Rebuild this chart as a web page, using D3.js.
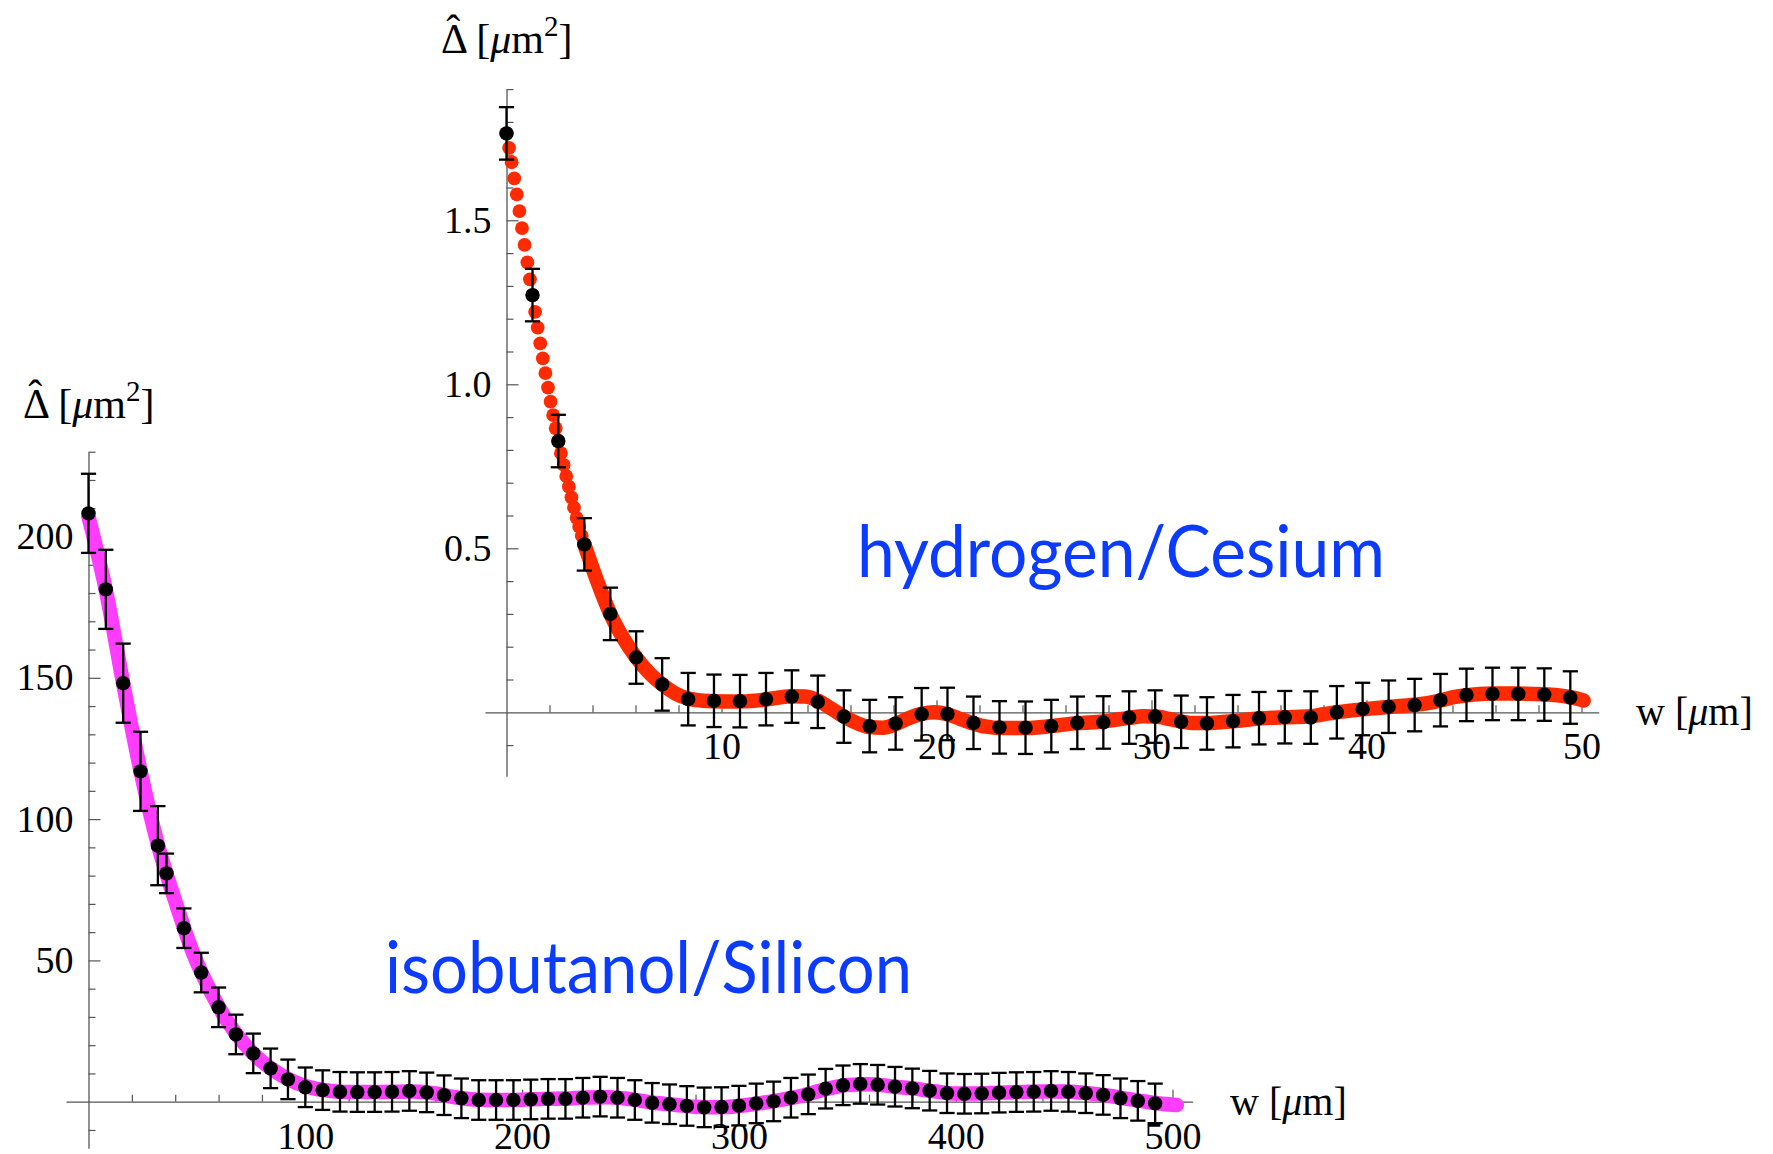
<!DOCTYPE html>
<html>
<head>
<meta charset="utf-8">
<script src="https://cdn.jsdelivr.net/npm/d3@7"></script>
<style>
  html, body { margin: 0; padding: 0; background: #fff; }
  svg { display: block; }
</style>
</head>
<body>
<svg id="chart" width="1773" height="1154"></svg>
<script>
// ---------- hydrogen / Cesium (upper panel) ----------
// measured points with error bars
const topW = [0.00, 1.21, 2.41, 3.62, 4.83, 6.03, 7.24, 8.45, 9.65, 10.86, 12.07, 13.27, 14.48, 15.69,
  16.89, 18.10, 19.31, 20.51, 21.72, 22.93, 24.14, 25.34, 26.55, 27.76, 28.96, 30.17, 31.38, 32.58,
  33.79, 35.00, 36.20, 37.41, 38.62, 39.82, 41.03, 42.24, 43.44, 44.65, 45.86, 47.06, 48.27, 49.48];
const topV = [1.765, 1.272, 0.827, 0.512, 0.300, 0.167, 0.085, 0.040, 0.035, 0.034, 0.040, 0.048, 0.032, -0.013,
  -0.042, -0.034, -0.006, -0.005, -0.032, -0.046, -0.047, -0.042, -0.032, -0.031, -0.016, -0.013, -0.029, -0.034,
  -0.027, -0.018, -0.015, -0.016, 0.000, 0.010, 0.017, 0.022, 0.037, 0.053, 0.056, 0.056, 0.054, 0.045];
const topErr = [0.08, 0.08, 0.08, 0.08, 0.08, 0.08, 0.08, 0.08, 0.08, 0.08, 0.08, 0.08, 0.08, 0.08,
  0.08, 0.08, 0.08, 0.08, 0.08, 0.08, 0.08, 0.08, 0.08, 0.08, 0.08, 0.08, 0.08, 0.08,
  0.08, 0.08, 0.08, 0.08, 0.08, 0.08, 0.08, 0.08, 0.08, 0.08, 0.08, 0.08, 0.08, 0.08];

// model curve, steep part: individual sample dots
const redDotW = [0.00, 0.12, 0.24, 0.36, 0.48, 0.60, 0.72, 0.84, 0.97, 1.09, 1.21, 1.33, 1.45, 1.57, 1.69,
  1.81, 1.93, 2.05, 2.17, 2.29, 2.41, 2.53, 2.66, 2.78, 2.90, 3.02, 3.14, 3.26, 3.38, 3.50, 3.62];
const redDotV = [1.765, 1.721, 1.677, 1.628, 1.579, 1.528, 1.476, 1.425, 1.372, 1.320, 1.272, 1.221, 1.173, 1.125, 1.079,
  1.034, 0.990, 0.947, 0.906, 0.866, 0.827, 0.790, 0.754, 0.720, 0.688, 0.655, 0.624, 0.593, 0.566, 0.538, 0.512];
// model curve, flat part: samples overlap into a continuous band
const redBandW = [3.62, 4.22, 4.83, 5.43, 6.03, 6.64, 7.24, 7.84, 8.45, 9.05, 9.65, 10.86, 12.07, 12.67, 13.27,
  13.90, 14.48, 15.09, 15.69, 16.30, 16.89, 17.50, 18.10, 18.70, 19.31, 19.90, 20.51, 21.10, 21.72, 22.33,
  22.93, 24.14, 25.34, 26.55, 27.76, 28.96, 29.60, 30.17, 30.80, 31.38, 32.00, 32.58, 33.79, 35.00, 36.20,
  37.41, 38.00, 38.62, 39.82, 41.03, 42.24, 42.85, 43.44, 44.05, 44.65, 45.86, 47.06, 48.27, 48.88, 49.48, 50.10];
const redBandV = [0.512, 0.400, 0.300, 0.226, 0.167, 0.120, 0.085, 0.058, 0.042, 0.036, 0.034, 0.033, 0.039, 0.045, 0.049,
  0.048, 0.036, 0.012, -0.013, -0.033, -0.045, -0.047, -0.036, -0.018, -0.005, 0.000, -0.006, -0.020, -0.034, -0.044,
  -0.048, -0.048, -0.042, -0.033, -0.028, -0.017, -0.012, -0.013, -0.020, -0.028, -0.033, -0.033, -0.027, -0.019, -0.015,
  -0.012, -0.006, 0.000, 0.009, 0.016, 0.023, 0.028, 0.036, 0.046, 0.052, 0.057, 0.057, 0.055, 0.052, 0.046, 0.036];

const topXMajor = [10, 20, 30, 40, 50];
const topXMinor = [2, 4, 6, 8, 12, 14, 16, 18, 22, 24, 26, 28, 32, 34, 36, 38, 42, 44, 46, 48];
const topYMajor = [0.5, 1.0, 1.5];
const topYMinor = [-0.1, 0.1, 0.2, 0.3, 0.4, 0.6, 0.7, 0.8, 0.9, 1.1, 1.2, 1.3, 1.4, 1.6, 1.7, 1.8, 1.9];

// ---------- isobutanol / Silicon (lower panel) ----------
const botW = [0, 8, 16, 24, 32, 36, 44, 52, 60, 68, 76, 84, 92, 100, 108, 116, 124, 132, 140, 148, 156, 164,
  172, 180, 188, 196, 204, 212, 220, 228, 236, 244, 252, 260, 268, 276, 284, 292, 300, 308, 316, 324,
  332, 340, 348, 356, 364, 372, 380, 388, 396, 404, 412, 420, 428, 436, 444, 452, 460, 468, 476, 484, 492];
const botV = [208.2, 181.3, 148.1, 116.9, 90.6, 80.8, 61.4, 45.7, 33.4, 23.8, 17.1, 11.8, 7.9, 5.1, 4.1, 3.5, 3.4, 3.4,
  3.5, 3.8, 3.3, 2.3, 1.2, 0.6, 0.6, 0.6, 0.8, 1.0, 1.0, 1.4, 1.8, 1.4, 0.6, -0.4, -0.9, -1.5, -2.0, -1.9,
  -1.4, -0.6, 0.1, 1.4, 2.6, 4.6, 5.8, 6.3, 6.0, 5.3, 4.7, 3.9, 3.0, 2.8, 2.9, 3.2, 3.4, 3.5, 3.8, 3.5,
  3.0, 2.4, 1.2, 0.3, -0.6];
const botErr = [14, 14, 14, 14, 14, 7, 7, 7, 7, 7, 7, 7, 7, 7, 7, 7, 7, 7, 7, 7, 7, 7,
  7, 7, 7, 7, 7, 7, 7, 7, 7, 7, 7, 7, 7, 7, 7, 7, 7, 7, 7, 7,
  7, 7, 7, 7, 7, 7, 7, 7, 7, 7, 7, 7, 7, 7, 7, 7, 7, 7, 7, 7, 7];

// model curve (thick line)
const magW = [0, 8, 16, 24, 32, 40, 48, 56, 64, 72, 80, 88, 96, 104, 112, 120, 130, 140, 150, 160, 170, 180, 190,
  200, 210, 220, 230, 240, 250, 260, 270, 280, 290, 300, 310, 320, 330, 340, 350, 360, 370, 380, 390, 400,
  410, 420, 430, 440, 450, 460, 470, 480, 490, 502];
const magV = [207, 181, 148, 117, 91, 71, 53, 39.5, 28.5, 20.3, 14.2, 9.8, 6.6, 4.7, 3.8, 3.4, 3.4, 3.5, 3.6, 2.9, 1.5, 0.7, 0.6,
  0.7, 1.0, 1.1, 1.5, 1.6, 0.9, -0.3, -1.1, -1.8, -2.0, -1.5, -0.5, 0.7, 2.3, 4.4, 5.9, 6.2, 5.5, 4.7, 3.7, 2.9,
  2.9, 3.2, 3.4, 3.6, 3.6, 3.1, 2.2, 0.9, -0.3, -1.2];

const botXMajor = [100, 200, 300, 400, 500];
const botXMinor = [20, 40, 60, 80, 120, 140, 160, 180, 220, 240, 260, 280, 320, 340, 360, 380, 420, 440, 460, 480];
const botYMajor = [50, 100, 150, 200];
const botYMinor = [-10, 10, 20, 30, 40, 60, 70, 80, 90, 110, 120, 130, 140, 160, 170, 180, 190, 210, 220, 230];

// ---------- drawing ----------
const svg = d3.select("#chart");
svg.append("rect").attr("width", 1773).attr("height", 1154).attr("fill", "#fff");

const SERIF = "'Liberation Serif', 'Times New Roman', serif";
const TICK_FS = 38;
const AXIS_COLOR = "#555";

function drawAxes(x, y, xMajor, xMinor, yMajor, yMinor, xFmt, yFmt) {
  const y0 = y(0), x0 = x(0);
  const gx = svg.append("g").attr("transform", `translate(0,${y0})`).style("color", AXIS_COLOR);
  gx.call(d3.axisBottom(x).tickValues(xMinor).tickSize(-7).tickSizeOuter(0).tickFormat(""));
  gx.append("g").call(d3.axisBottom(x).tickValues(xMajor).tickSize(-12).tickSizeOuter(0)
      .tickPadding(20).tickFormat(xFmt))
    .call(g => g.select(".domain").remove());
  const gy = svg.append("g").attr("transform", `translate(${x0},0)`).style("color", AXIS_COLOR);
  gy.call(d3.axisLeft(y).tickValues(yMinor).tickSize(-7).tickSizeOuter(0).tickFormat(""));
  gy.append("g").call(d3.axisLeft(y).tickValues(yMajor).tickSize(-12).tickSizeOuter(0)
      .tickPadding(15).tickFormat(yFmt))
    .call(g => g.select(".domain").remove());
  [gx, gy].forEach(g => {
    g.selectAll(".domain").attr("stroke-width", 1.3);
    g.selectAll(".tick line").attr("stroke-width", 1.2);
    g.selectAll("text").attr("fill", "#000").style("font-family", SERIF).style("font-size", TICK_FS + "px");
    g.attr("font-family", null).attr("font-size", null);
  });
}

function drawErrorPoints(x, y, ws, vs, es) {
  const pts = ws.map((w, i) => ({ w, v: vs[i], e: es[i] }));
  const g = svg.append("g").attr("stroke", "#000").attr("stroke-width", 2.3).attr("fill", "none");
  const cap = 7.6;
  pts.forEach(p => {
    const cx = x(p.w), yt = y(p.v + p.e), yb = y(p.v - p.e);
    g.append("line").attr("x1", cx).attr("x2", cx).attr("y1", yt).attr("y2", yb);
    g.append("line").attr("x1", cx - cap).attr("x2", cx + cap).attr("y1", yt).attr("y2", yt);
    g.append("line").attr("x1", cx - cap).attr("x2", cx + cap).attr("y1", yb).attr("y2", yb);
  });
  svg.append("g").selectAll("circle").data(pts).join("circle")
    .attr("cx", p => x(p.w)).attr("cy", p => y(p.v)).attr("r", 7.2).attr("fill", "#000");
}

function quantityLabel(xPos, yPos) {
  // Δ̂ [μm²]
  const fs = 42;
  const t = svg.append("text").attr("x", xPos).attr("y", yPos)
    .style("font-family", SERIF).style("font-size", fs + "px").attr("fill", "#000");
  t.append("tspan").text("Δ");
  t.append("tspan").text(" [");
  t.append("tspan").style("font-style", "italic").text("μ");
  t.append("tspan").text("m");
  t.append("tspan").attr("dy", -17).style("font-size", "29px").text("2");
  t.append("tspan").attr("dy", 17).text("]");
  const ext = t.node().getExtentOfChar(0);
  svg.append("text").attr("x", ext.x + ext.width / 2).attr("y", yPos - 9)
    .attr("text-anchor", "middle")
    .style("font-family", SERIF).style("font-size", fs + "px").attr("fill", "#000").text("ˆ");
}

function widthLabel(xPos, yPos) {
  const t = svg.append("text").attr("x", xPos).attr("y", yPos)
    .style("font-family", SERIF).style("font-size", "40px").attr("fill", "#000");
  t.append("tspan").text("w [");
  t.append("tspan").style("font-style", "italic").text("μ");
  t.append("tspan").text("m]");
}

function systemLabel(text, xPos, yPos, len) {
  svg.append("text").attr("x", xPos).attr("y", yPos)
    .attr("textLength", len).attr("lengthAdjust", "spacingAndGlyphs")
    .style("font-family", "Lato, 'Noto Sans', sans-serif").style("font-size", "71px")
    .attr("fill", "#0b3bff").text(text);
}

// upper panel scales (plot range includes Mathematica-style padding)
const xTop = d3.scaleLinear().domain([-1.0, 50.8]).range([506.5 - 21.5, 506.5 + 50.8 * 21.5]);
const yTop = d3.scaleLinear().domain([-0.195, 1.9]).range([712.3 + 0.195 * 328, 712.3 - 1.9 * 328]);
// lower panel scales
const xBot = d3.scaleLinear().domain([-10.4, 509.3]).range([88.5 - 10.4 * 2.168, 88.5 + 509.3 * 2.168]);
const yBot = d3.scaleLinear().domain([-16.5, 230]).range([1101.7 + 16.5 * 2.826, 1101.7 - 230 * 2.826]);

// lower panel
drawAxes(xBot, yBot, botXMajor, botXMinor, botYMajor, botYMinor, d3.format("d"), d3.format("d"));
svg.append("path")
  .datum(magW.map((w, i) => [w, magV[i]]))
  .attr("fill", "none").attr("stroke", "#ff3cff").attr("stroke-width", 14.5)
  .attr("stroke-linecap", "round").attr("stroke-linejoin", "round")
  .attr("d", d3.line().x(d => xBot(d[0])).y(d => yBot(d[1])).curve(d3.curveMonotoneX));
drawErrorPoints(xBot, yBot, botW, botV, botErr);

// upper panel
drawAxes(xTop, yTop, topXMajor, topXMinor, topYMajor, topYMinor, d3.format("d"), d3.format(".1f"));
svg.append("path")
  .datum(redBandW.map((w, i) => [w, redBandV[i]]))
  .attr("fill", "none").attr("stroke", "#ff2a00").attr("stroke-width", 14.5)
  .attr("stroke-linecap", "round").attr("stroke-linejoin", "round")
  .attr("d", d3.line().x(d => xTop(d[0])).y(d => yTop(d[1])).curve(d3.curveMonotoneX));
svg.append("g").selectAll("circle").data(redDotW.map((w, i) => [w, redDotV[i]])).join("circle")
  .attr("cx", d => xTop(d[0])).attr("cy", d => yTop(d[1])).attr("r", 6.9).attr("fill", "#ff2a00");
drawErrorPoints(xTop, yTop, topW, topV, topErr);

// axis titles and panel captions
quantityLabel(441, 53);
quantityLabel(23, 418);
widthLabel(1636, 725);
widthLabel(1230, 1115);
systemLabel("hydrogen/Cesium", 857, 577, 528);
systemLabel("isobutanol/Silicon", 385, 993, 527);
</script>
</body>
</html>
